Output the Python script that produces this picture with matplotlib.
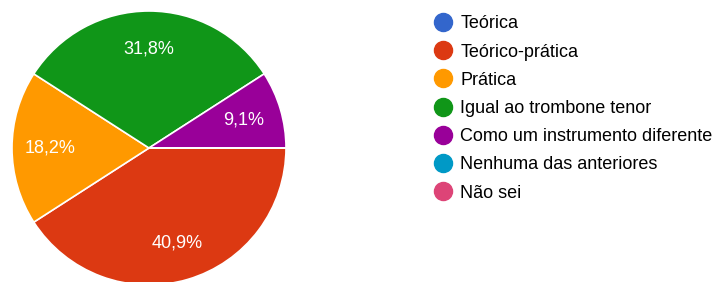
import matplotlib.pyplot as plt
from matplotlib.lines import Line2D

# Data
labels = ['Teórica', 'Teórico-prática', 'Prática', 'Igual ao trombone tenor',
          'Como um instrumento diferente', 'Nenhuma das anteriores', 'Não sei']
values = [0, 40.9, 18.2, 31.8, 9.1, 0, 0]
colors = ['#3366cc', '#dc3912', '#ff9900', '#109618', '#990099', '#0099c6', '#dd4477']

plt.rcParams['font.family'] = ['Arial', 'Liberation Sans', 'DejaVu Sans']

fig = plt.figure(figsize=(7.19, 2.82), dpi=100)
# pie centre ~ (149, 148) px, radius ~137 px
ax = fig.add_axes([12 / 719, (134 - 137) / 282, 274 / 719, 274 / 282])


def fmt(p):
    if p < 0.05:
        return ''
    return ('%.1f%%' % p).replace('.', ',')


wedges, texts, autotexts = ax.pie(values, colors=colors, startangle=0, counterclock=False,
                                  autopct=fmt, pctdistance=0.72,
                                  wedgeprops=dict(edgecolor='white', linewidth=1.2))
for t in autotexts:
    t.set_color('white')
    t.set_fontsize(13)
ax.set_xlim(-1, 1)
ax.set_ylim(-1, 1)
ax.set_aspect('equal')

# Legend with circle markers
handles = [Line2D([0], [0], marker='o', linestyle='', markersize=13,
                  markerfacecolor=c, markeredgecolor=c) for c in colors]
fig.legend(handles, labels, loc='upper left', bbox_to_anchor=(0.5935, 0.971),
           frameon=False, fontsize=13, labelspacing=0.62, handletextpad=0.46,
           handlelength=1.0, borderaxespad=0)

fig.savefig('out.png', dpi=100)
